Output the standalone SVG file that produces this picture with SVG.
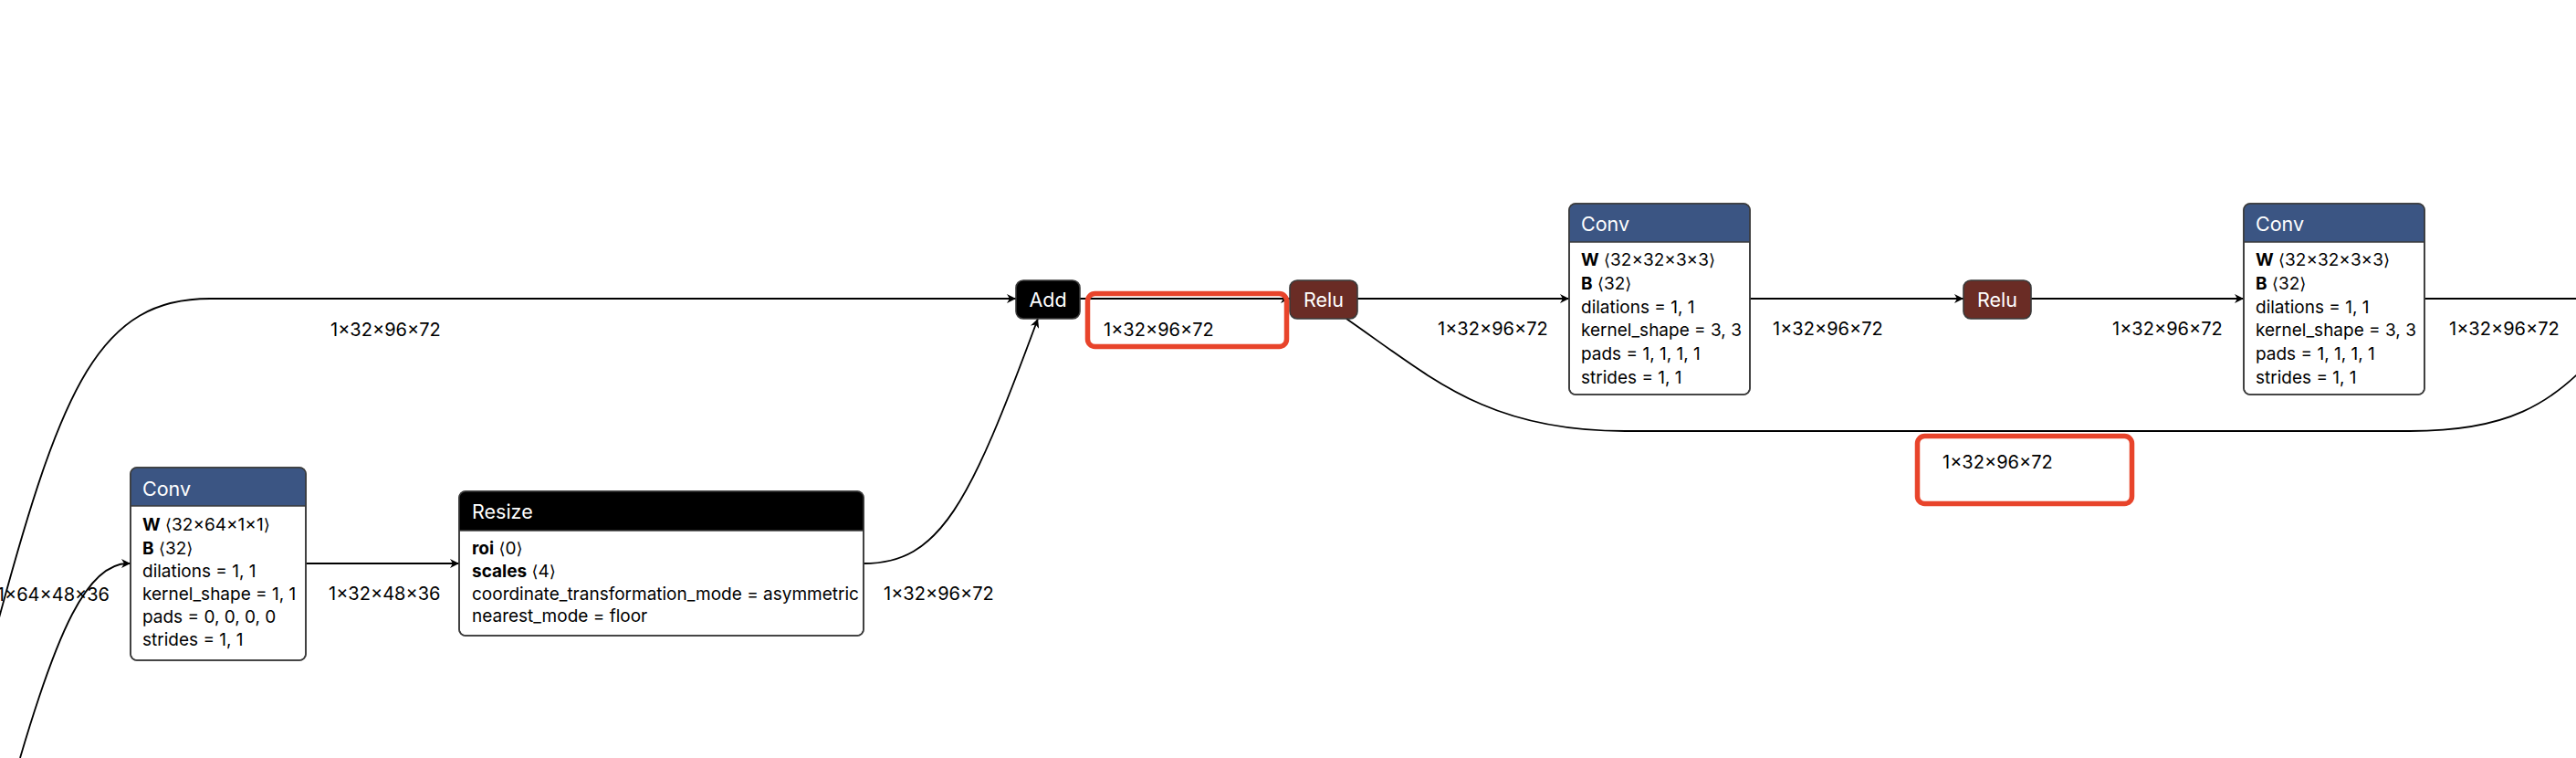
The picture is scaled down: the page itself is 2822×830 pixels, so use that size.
<svg xmlns="http://www.w3.org/2000/svg" width="2822" height="830" viewBox="0 0 2822 830">
<style>
text{font-family:Inter,"Liberation Sans",sans-serif;font-size:19px;fill:#000}
.lb{font-size:20px}
.hd{fill:#fff;font-size:21.5px}
.b{font-weight:bold}
.ab{font-family:"DejaVu Sans",sans-serif;font-size:18px}
.box{fill:#fff;stroke:#3a3a3a;stroke-width:1.6}
.sep{stroke:#3a3a3a;stroke-width:1.4}
.conv{fill:#3b5583}
.blk{fill:#000}
.relu{fill:#6a2c25;stroke:#3a3a3a;stroke-width:1.6}
.op{fill:#000;stroke:#3a3a3a;stroke-width:1.6}
.e{fill:none;stroke:#000;stroke-width:1.8}
.ea{fill:none;stroke:#000;stroke-width:1.8;marker-end:url(#arr)}
.hl{fill:none;stroke:#e8442b;stroke-width:5.5}
</style>
<defs>
<marker id="arr" viewBox="0 0 10 10" refX="10" refY="5" markerWidth="11" markerHeight="10" markerUnits="userSpaceOnUse" orient="auto">
<path d="M0,0 L10,5 L0,10 L3,5 Z" fill="#000"/>
</marker>
</defs>
<rect width="2822" height="830" fill="#fff"/>
<g id="edges">
<path class="ea" d="M-3,684 C68,420 110,327 230,327 L1113,327"/>
<path class="ea" d="M22,830 C62,694 95,617 140,617 L143,617"/>
<path class="ea" d="M335,617 L503,617"/>
<path class="ea" d="M946,617 C1030,617 1062,552 1137,349"/>
<path class="ea" d="M1183,327 L1413,327"/>
<path class="ea" d="M1487,327 L1719,327"/>
<path class="e" d="M1475,349 C1570,415 1630,472 1780,472 L2640,472 C2745,472 2795,445 2850,382"/>
<path class="ea" d="M1917,327 L2151,327"/>
<path class="ea" d="M2225,327 L2458,327"/>
<path class="e" d="M2656,327 L2830,327"/>
<text class="lb" x="362" y="368">1×32×96×72</text>
<text class="lb" x="120" y="658" text-anchor="end">1×64×48×36</text>
<text class="lb" x="360" y="657">1×32×48×36</text>
<text class="lb" x="968" y="657">1×32×96×72</text>
<text class="lb" x="1209" y="368">1×32×96×72</text>
<text class="lb" x="1575" y="367">1×32×96×72</text>
<text class="lb" x="1942" y="367">1×32×96×72</text>
<text class="lb" x="2314" y="367">1×32×96×72</text>
<text class="lb" x="2683" y="367">1×32×96×72</text>
<text class="lb" x="2128" y="513">1×32×96×72</text>
</g>
<g id="conv1">
<rect class="box" x="143" y="512" width="192" height="211" rx="7"/>
<path class="conv" d="M143,554 V519 Q143,512 150,512 H328 Q335,512 335,519 V554 Z"/>
<line class="sep" x1="143" y1="554" x2="335" y2="554"/>
<rect x="143" y="512" width="192" height="211" rx="7" fill="none" stroke="#3a3a3a" stroke-width="1.6"/>
<text class="hd" x="156" y="543">Conv</text>
<text x="156" y="581"><tspan class="b">W</tspan> <tspan class="ab">⟨</tspan>32×64×1×1<tspan class="ab">⟩</tspan></text>
<text x="156" y="606.5"><tspan class="b">B</tspan> <tspan class="ab">⟨</tspan>32<tspan class="ab">⟩</tspan></text>
<text x="156" y="632">dilations = 1, 1</text>
<text x="156" y="657">kernel_shape = 1, 1</text>
<text x="156" y="682">pads = 0, 0, 0, 0</text>
<text x="156" y="707">strides = 1, 1</text>
</g>
<g id="resize">
<rect class="box" x="503" y="538" width="443" height="158" rx="7"/>
<path class="blk" d="M503,581 V545 Q503,538 510,538 H939 Q946,538 946,545 V581 Z"/>
<line class="sep" x1="503" y1="581" x2="946" y2="581"/>
<rect x="503" y="538" width="443" height="158" rx="7" fill="none" stroke="#3a3a3a" stroke-width="1.6"/>
<text class="hd" x="517" y="568">Resize</text>
<text x="517" y="607"><tspan class="b">roi</tspan> <tspan class="ab">⟨</tspan>0<tspan class="ab">⟩</tspan></text>
<text x="517" y="632"><tspan class="b">scales</tspan> <tspan class="ab">⟨</tspan>4<tspan class="ab">⟩</tspan></text>
<text x="517" y="656.5">coordinate_transformation_mode = asymmetric</text>
<text x="517" y="681">nearest_mode = floor</text>
</g>
<g id="add">
<rect class="op" x="1113" y="307" width="70" height="42" rx="8"/>
<text class="hd" x="1148" y="336" text-anchor="middle">Add</text>
</g>
<g id="relu1">
<rect class="relu" x="1413" y="307" width="74" height="42" rx="8"/>
<text class="hd" x="1450" y="336" text-anchor="middle">Relu</text>
</g>
<g id="conv2">
<rect class="box" x="1719" y="223" width="198" height="209" rx="7"/>
<path class="conv" d="M1719,265 V230 Q1719,223 1726,223 H1910 Q1917,223 1917,230 V265 Z"/>
<line class="sep" x1="1719" y1="265" x2="1917" y2="265"/>
<rect x="1719" y="223" width="198" height="209" rx="7" fill="none" stroke="#3a3a3a" stroke-width="1.6"/>
<text class="hd" x="1732" y="253">Conv</text>
<text x="1732" y="291"><tspan class="b">W</tspan> <tspan class="ab">⟨</tspan>32×32×3×3<tspan class="ab">⟩</tspan></text>
<text x="1732" y="317"><tspan class="b">B</tspan> <tspan class="ab">⟨</tspan>32<tspan class="ab">⟩</tspan></text>
<text x="1732" y="342.5">dilations = 1, 1</text>
<text x="1732" y="368">kernel_shape = 3, 3</text>
<text x="1732" y="394">pads = 1, 1, 1, 1</text>
<text x="1732" y="420">strides = 1, 1</text>
</g>
<g id="relu2">
<rect class="relu" x="2151" y="307" width="74" height="42" rx="8"/>
<text class="hd" x="2188" y="336" text-anchor="middle">Relu</text>
</g>
<g id="conv3">
<rect class="box" x="2458" y="223" width="198" height="209" rx="7"/>
<path class="conv" d="M2458,265 V230 Q2458,223 2465,223 H2649 Q2656,223 2656,230 V265 Z"/>
<line class="sep" x1="2458" y1="265" x2="2656" y2="265"/>
<rect x="2458" y="223" width="198" height="209" rx="7" fill="none" stroke="#3a3a3a" stroke-width="1.6"/>
<text class="hd" x="2471" y="253">Conv</text>
<text x="2471" y="291"><tspan class="b">W</tspan> <tspan class="ab">⟨</tspan>32×32×3×3<tspan class="ab">⟩</tspan></text>
<text x="2471" y="317"><tspan class="b">B</tspan> <tspan class="ab">⟨</tspan>32<tspan class="ab">⟩</tspan></text>
<text x="2471" y="342.5">dilations = 1, 1</text>
<text x="2471" y="368">kernel_shape = 3, 3</text>
<text x="2471" y="394">pads = 1, 1, 1, 1</text>
<text x="2471" y="420">strides = 1, 1</text>
</g>
<g id="highlights">
<rect class="hl" x="1191.5" y="321.5" width="218" height="58" rx="8"/>
<rect class="hl" x="2100.5" y="477.5" width="235" height="74" rx="8"/>
</g>
</svg>
